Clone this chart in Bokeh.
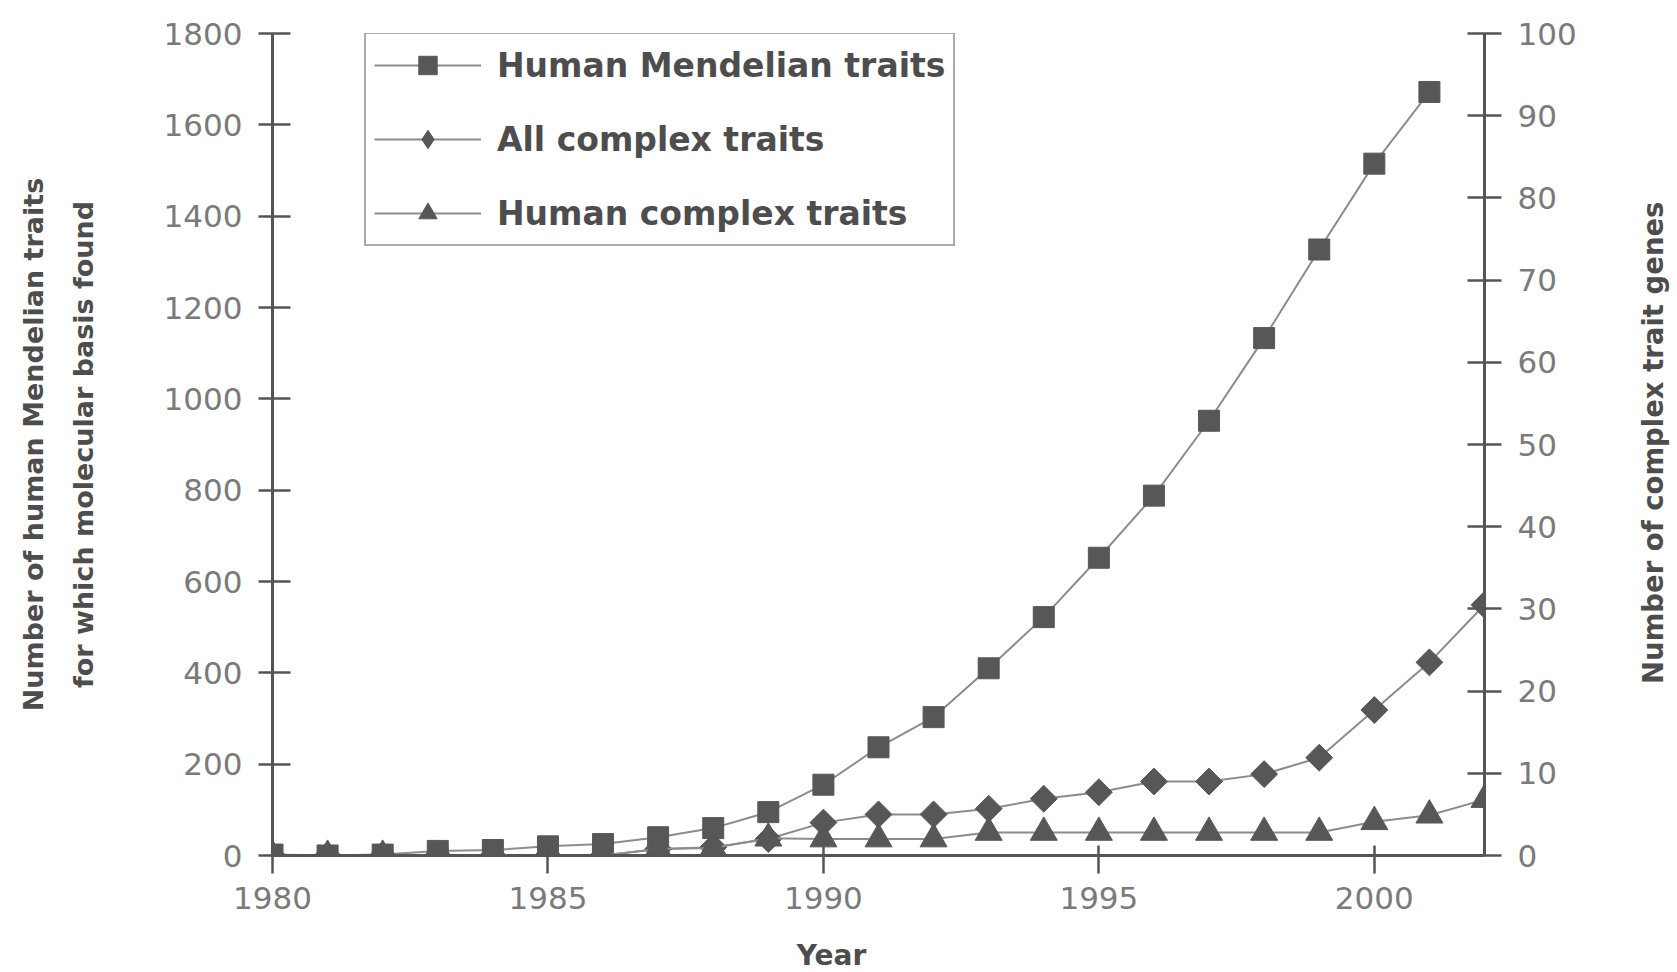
import math
from bokeh.plotting import figure
from bokeh.models import (LinearAxis, Range1d, FixedTicker, Legend, LegendItem,
                          Title, Label)
from bokeh.layouts import row, column
from bokeh.embed import file_html
from bokeh.resources import INLINE

# ---------------- data ----------------
years = [1980, 1981, 1982, 1983, 1984, 1985, 1986, 1987, 1988, 1989, 1990,
         1991, 1992, 1993, 1994, 1995, 1996, 1997, 1998, 1999, 2000, 2001, 2002]
mendelian_years = years[:-1]
mendelian = [2, 0, 2, 10, 12, 20, 25, 40, 60, 95, 155, 237, 303, 410, 522,
             652, 788, 952, 1133, 1327, 1515, 1672]
all_complex = [0, 0, 0, 0, 0, 0, 0, 0.8, 1, 2, 4, 5, 5, 5.7, 6.9, 7.7, 9, 9,
               9.9, 11.9, 17.7, 23.5, 30.5]
human_complex = [0, 0, 0, 0, 0, 0, 0, 0.8, 0.9, 2.1, 2, 2, 2, 2.8, 2.8, 2.8,
                 2.8, 2.8, 2.8, 2.8, 4.1, 4.9, 6.8]
x_ticks = [1980, 1985, 1990, 1995, 2000]
left_ticks = [0, 200, 400, 600, 800, 1000, 1200, 1400, 1600, 1800]
right_ticks = [0, 10, 20, 30, 40, 50, 60, 70, 80, 90, 100]

series_names = ["Human Mendelian traits", "All complex traits", "Human complex traits"]
left_title = ["Number of human Mendelian traits", "for which molecular basis found"]
right_title = "Number of complex trait genes"
x_title = "Year"

# ---------------- style ----------------
FONT = "DejaVu Sans"
AXIS_COL = "#555555"
TICK_LBL_COL = "#7a7a7a"
TITLE_COL = "#4d4d4d"
LINE_COL = "#8c8c8c"
MARK_COL = "#575757"

TOTAL_W, TOTAL_H = 1677, 972
STRIP_W, STRIP_H = 57, 42          # right title strip / bottom title strip
W, H = TOTAL_W - STRIP_W, TOTAL_H - STRIP_H

p = figure(width=W, height=H, output_backend="svg", toolbar_location=None,
           x_range=Range1d(1980, 2002), y_range=Range1d(0, 1800),
           x_axis_location=None, y_axis_location=None,
           min_border_left=271, min_border_right=W - 1484,
           min_border_top=33, min_border_bottom=H - 855)
p.extra_y_ranges = {"y2": Range1d(0, 100)}
p.outline_line_color = None
p.xgrid.visible = False
p.ygrid.visible = False
p.background_fill_color = "white"
p.border_fill_color = "white"


def style_axis(ax, tin, tout, standoff):
    ax.axis_line_color = AXIS_COL
    ax.axis_line_width = 3
    ax.major_tick_line_color = AXIS_COL
    ax.major_tick_line_width = 2.5
    ax.minor_tick_line_color = None
    ax.major_tick_in = tin
    ax.major_tick_out = tout
    ax.major_label_text_color = TICK_LBL_COL
    ax.major_label_text_font = FONT
    ax.major_label_text_font_size = "31px"
    ax.major_label_standoff = standoff
    ax.axis_label_text_font = FONT
    ax.axis_label_text_font_style = "bold"
    ax.axis_label_text_font_size = "27px"
    ax.axis_label_text_color = TITLE_COL


xaxis = LinearAxis(ticker=FixedTicker(ticks=x_ticks))
style_axis(xaxis, 10, 18, 13)
p.add_layout(xaxis, "below")

yaxis = LinearAxis(ticker=FixedTicker(ticks=left_ticks),
                   axis_label=left_title[1])
style_axis(yaxis, 18, 14, 16)
yaxis.axis_label_standoff = 62
p.add_layout(yaxis, "left")

y2axis = LinearAxis(y_range_name="y2", ticker=FixedTicker(ticks=right_ticks))
style_axis(y2axis, 17, 17, 16)
p.add_layout(y2axis, "right")

p.add_layout(Title(text=left_title[0], align="center", text_font=FONT,
                   text_font_style="bold", text_font_size="27px",
                   text_color=TITLE_COL, standoff=31), "left")

# ---------------- series ----------------
l1 = p.line(mendelian_years, mendelian, line_color=LINE_COL, line_width=2)
s1 = p.scatter(mendelian_years, mendelian, marker="square", size=21,
               fill_color=MARK_COL, line_color=MARK_COL)

l2 = p.line(years, all_complex, line_color=LINE_COL, line_width=2,
            y_range_name="y2")
p.scatter(years, all_complex, marker="square", size=19, angle=math.pi / 4,
          fill_color=MARK_COL, line_color=MARK_COL, y_range_name="y2")
# legend swatch for the diamond series (no visible data point)
s2 = p.scatter([float("nan")], [float("nan")], marker="diamond", size=26,
               fill_color=MARK_COL, line_color=MARK_COL, y_range_name="y2")

l3 = p.line(years, human_complex, line_color=LINE_COL, line_width=2,
            y_range_name="y2")
s3 = p.scatter(years, human_complex, marker="triangle", size=27,
               fill_color=MARK_COL, line_color=MARK_COL, y_range_name="y2")

# ---------------- legend ----------------
lg = Legend(items=[LegendItem(label=series_names[0], renderers=[l1, s1]),
                   LegendItem(label=series_names[1], renderers=[l2, s2]),
                   LegendItem(label=series_names[2], renderers=[l3, s3])])
lg.location = (92, 855 - 246)
lg.margin = 0
lg.padding = 8
lg.spacing = 28
lg.glyph_width = 107
lg.glyph_height = 46
lg.label_height = 46
lg.label_standoff = 16
lg.border_line_color = AXIS_COL
lg.border_line_width = 2.5
lg.background_fill_color = "white"
lg.background_fill_alpha = 1
lg.label_text_font = FONT
lg.label_text_font_size = "33px"
lg.label_text_font_style = "bold"
lg.label_text_color = TITLE_COL
p.add_layout(lg, "center")


# ---------------- title strips ----------------
def strip(width, height):
    f = figure(width=width, height=height, output_backend="svg",
               toolbar_location=None, x_range=Range1d(0, width),
               y_range=Range1d(0, height), x_axis_location=None,
               y_axis_location=None, min_border=0)
    f.outline_line_color = None
    f.xgrid.visible = False
    f.ygrid.visible = False
    f.background_fill_color = "white"
    f.border_fill_color = "white"
    return f


p_r = strip(STRIP_W, H)
p_r.add_layout(Label(x=1652 - W, y=H - 463, text=right_title, angle=math.pi / 2,
                     text_align="center", text_baseline="middle",
                     text_font=FONT, text_font_style="bold",
                     text_font_size="27.5px", text_color=TITLE_COL))

p_b = strip(TOTAL_W, STRIP_H)
p_b.add_layout(Label(x=831, y=17, text=x_title,
                     text_align="center", text_baseline="middle",
                     text_font=FONT, text_font_style="bold",
                     text_font_size="28px", text_color=TITLE_COL))

layout = column(row(p, p_r, spacing=0), p_b, spacing=0)

open("out.html", "w").write(file_html(layout, INLINE))
